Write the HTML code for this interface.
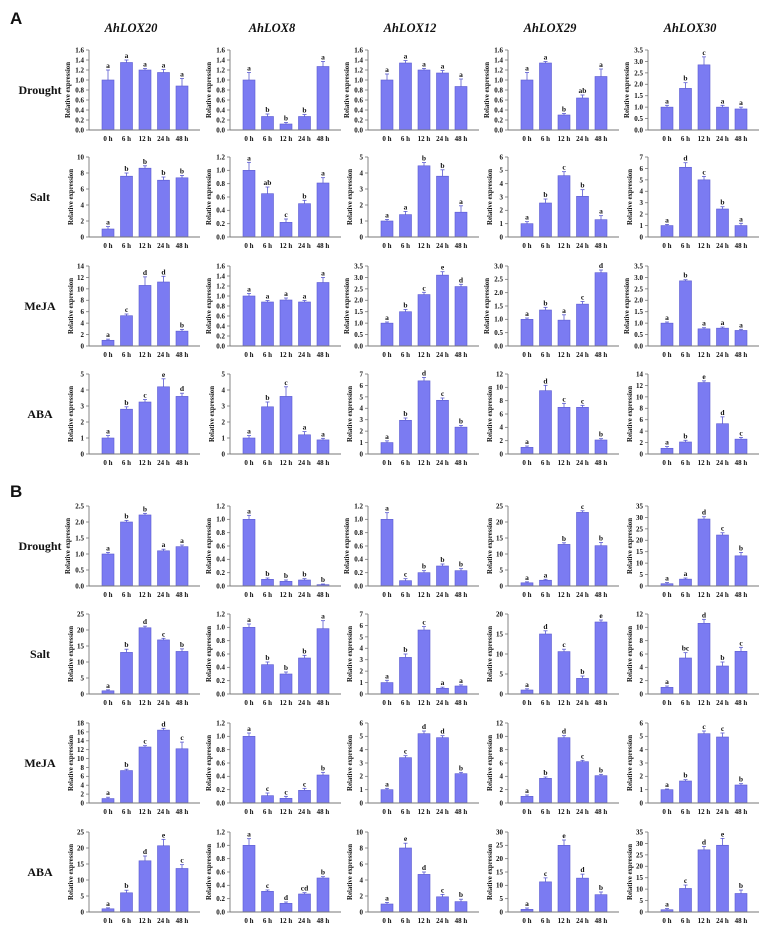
<!DOCTYPE html>
<html><head><meta charset="utf-8"><style>
html,body{margin:0;padding:0;background:#fff;}
svg{display:block;}
text{font-family:"Liberation Serif",serif;font-weight:bold;fill:#111;}
</style></head><body>
<svg id="fig" width="767" height="929" viewBox="0 0 767 929" xmlns="http://www.w3.org/2000/svg"></svg>
<script>
const genes = ['AhLOX20','AhLOX8','AhLOX12','AhLOX29','AhLOX30'];
const treatments = ['Drought','Salt','MeJA','ABA'];
const times = ['0 h','6 h','12 h','24 h','48 h'];

// Panel A values
const aDrought = [[1.0,1.35,1.2,1.15,0.88],[1.0,0.27,0.12,0.27,1.27],[1.0,1.34,1.2,1.14,0.87],[1.0,1.34,0.3,0.64,1.07],[1.0,1.82,2.85,1.0,0.92]];
const aSalt = [[1.0,7.6,8.6,7.1,7.4],[1.0,0.65,0.22,0.5,0.81],[1.0,1.4,4.45,3.8,1.55],[1.0,2.55,4.6,3.05,1.3],[1.0,6.1,5.0,2.45,1.0]];
const aMeJA = [[1.0,5.3,10.6,11.2,2.6],[1.0,0.88,0.92,0.88,1.27],[1.0,1.5,2.25,3.1,2.6],[1.0,1.35,0.97,1.57,2.75],[1.0,2.85,0.75,0.78,0.68]];
const aABA = [[1.0,2.8,3.25,4.2,3.6],[1.0,2.95,3.6,1.2,0.88],[1.0,2.95,6.4,4.7,2.35],[1.0,9.5,7.0,7.0,2.1],[1.0,2.1,12.5,5.3,2.6]];
// Panel B values
const bDrought = [[1.0,2.0,2.22,1.1,1.23],[1.0,0.1,0.07,0.09,0.02],[1.0,0.08,0.2,0.3,0.23],[1.0,1.8,13.0,23.0,12.6],[1.0,3.0,29.3,22.3,13.2]];
const bSalt = [[1.0,13.0,20.7,16.9,13.3],[1.0,0.44,0.3,0.54,0.98],[1.0,3.2,5.6,0.5,0.7],[1.0,15.0,10.6,3.9,18.0],[1.0,5.4,10.6,4.2,6.4]];
const bMeJA = [[1.0,7.3,12.6,16.4,12.2],[1.0,0.11,0.07,0.19,0.42],[1.0,3.4,5.2,4.9,2.2],[1.0,3.7,9.8,6.2,4.1],[1.0,1.65,5.2,4.95,1.35]];
const bABA = [[1.0,6.0,16.0,20.7,13.6],[1.0,0.31,0.13,0.27,0.51],[1.0,8.0,4.7,1.9,1.3],[1.0,11.3,25.0,12.7,6.5],[1.0,10.3,27.2,29.2,8.1]];

// Error bars (estimated)
const aDroughtErr = [[0.2,0.05,0.03,0.06,0.15],[0.15,0.05,0.03,0.04,0.1],[0.12,0.05,0.03,0.05,0.15],[0.15,0.03,0.03,0.06,0.15],[0.08,0.25,0.35,0.08,0.08]];
const aSaltErr = [[0.3,0.4,0.3,0.4,0.3],[0.12,0.1,0.05,0.05,0.08],[0.1,0.2,0.2,0.4,0.4],[0.15,0.3,0.3,0.5,0.3],[0.1,0.4,0.3,0.2,0.2]];
const aMeJAErr = [[0.2,0.3,1.5,1.0,0.3],[0.05,0.03,0.04,0.03,0.1],[0.05,0.1,0.1,0.15,0.1],[0.05,0.1,0.2,0.1,0.1],[0.05,0.05,0.05,0.05,0.05]];
const aABAErr = [[0.15,0.15,0.15,0.5,0.2],[0.15,0.3,0.6,0.2,0.1],[0.15,0.2,0.3,0.2,0.15],[0.2,0.8,0.6,0.3,0.2],[0.3,0.3,0.3,1.2,0.3]];
const bDroughtErr = [[0.05,0.05,0.05,0.05,0.05],[0.06,0.02,0.02,0.02,0.01],[0.1,0.03,0.03,0.03,0.03],[0.3,0.3,0.5,0.5,1.0],[0.5,0.5,1.0,1.0,1.5]];
const bSaltErr = [[0.3,1.0,0.5,0.5,0.8],[0.05,0.04,0.03,0.04,0.12],[0.2,0.3,0.3,0.1,0.1],[0.3,0.8,0.6,0.6,0.5],[0.2,0.8,0.6,0.6,0.6]];
const bMeJAErr = [[0.3,0.3,0.3,0.4,1.5],[0.05,0.04,0.03,0.03,0.04],[0.1,0.15,0.2,0.15,0.1],[0.2,0.2,0.3,0.2,0.2],[0.05,0.1,0.2,0.3,0.1]];
const bABAErr = [[0.3,0.8,1.5,2.0,1.2],[0.1,0.02,0.02,0.02,0.02],[0.2,0.6,0.3,0.3,0.3],[0.5,1.5,2.0,1.5,1.0],[0.5,1.5,1.5,3.0,1.5]];

// Significance letters
const aDroughtLet = [['a','a','a','a','a'],['a','b','b','b','a'],['a','a','a','a','a'],['a','a','b','ab','a'],['a','b','c','a','a']];
const aSaltLet = [['a','b','b','b','b'],['a','ab','c','b','a'],['a','a','b','b','a'],['a','b','c','b','a'],['a','d','c','b','a']];
const aMeJALet = [['a','c','d','d','b'],['a','a','a','a','a'],['a','b','c','e','d'],['a','b','a','c','d'],['a','b','a','a','a']];
const aABALet = [['a','b','c','e','d'],['a','b','c','a','a'],['a','b','d','c','b'],['a','d','c','c','b'],['a','b','e','d','c']];
const bDroughtLet = [['a','b','b','a','a'],['a','b','b','b','b'],['a','c','b','b','b'],['a','a','b','c','b'],['a','a','d','c','b']];
const bSaltLet = [['a','b','d','c','b'],['a','b','b','b','a'],['a','b','c','a','a'],['a','d','c','b','e'],['a','bc','d','b','c']];
const bMeJALet = [['a','b','c','d','c'],['a','c','c','c','b'],['a','c','d','d','b'],['a','b','d','c','b'],['a','b','c','c','b']];
const bABALet = [['a','b','d','e','c'],['a','c','d','cd','b'],['a','e','d','c','b'],['a','c','e','d','b'],['a','c','d','e','b']];

// Axis maxima and tick steps
const aMax = [[1.6,1.6,1.6,1.6,3.5],[10,1.2,5,6,7],[14,1.6,3.5,3.0,3.5],[5,5,7,12,14]];
const aStep = [[0.2,0.2,0.2,0.2,0.5],[2,0.2,1,1,1],[2,0.2,0.5,0.5,0.5],[1,1,1,2,2]];
const bMax = [[2.5,1.2,1.2,25,35],[25,1.2,7,20,12],[18,1.2,6,12,6],[25,1.2,10,30,35]];
const bStep = [[0.5,0.2,0.2,5,5],[5,0.2,1,5,2],[2,0.2,1,2,1],[5,0.2,2,5,5]];

const NS='http://www.w3.org/2000/svg';
const svg=document.getElementById('fig');
function mk(tag,attrs,parent){const e=document.createElementNS(NS,tag);for(const k in attrs)e.setAttribute(k,attrs[k]);(parent||svg).appendChild(e);return e;}

const colX=[89,230,368,508,648];
const aTops=[50,157,266,374], bTops=[506,614,723,832];
const plotH=80, axisW=111, barW=12, firstOff=19, pitch=18.5;

let t=mk('text',{x:10,y:24,'font-size':17});


t.style.fontFamily='"Liberation Sans",sans-serif';t.textContent='A';
t=mk('text',{x:10,y:497,'font-size':17});


t.style.fontFamily='"Liberation Sans",sans-serif';t.textContent='B';

genes.forEach((g,i)=>{
  const e=mk('text',{x:colX[i]+42,y:32,'font-size':12.5,'text-anchor':'middle','font-style':'italic'});
  
  
  e.textContent=g;
});

function drawPanel(prefix,tops,vals,errs,lets,maxs,steps){
  treatments.forEach((tr,r)=>{
    const top=tops[r], bot=top+plotH;
    const lab=mk('text',{x:40,y:top+plotH/2+4,'font-size':12,'text-anchor':'middle'});
    
    
    lab.textContent=tr;
    for(let c=0;c<5;c++){
      const ax=colX[c], ymax=maxs[r][c], step=steps[r][c];
      const g=mk('g',{});
      
      
      const y=v=>bot-v/ymax*plotH;
      const xC=i=>ax+firstOff+pitch*i;
      const n=Math.round(ymax/step);
      const dec=step<1?1:0;
      for(let k=0;k<=n;k++){
        const v=k*step, yy=y(v);
        mk('line',{x1:ax-3,x2:ax,y1:yy,y2:yy,stroke:'#777','stroke-width':0.8},g);
        const tl=mk('text',{x:ax-5,y:yy+2.4,'font-size':7,'text-anchor':'end'},g);
        
        
        tl.textContent=v.toFixed(dec);
      }
      const yt=mk('text',{x:0,y:0,'font-size':6.8,'text-anchor':'middle',transform:`translate(${ax-(dec?19:16)},${top+plotH/2}) rotate(-90)`},g);
      
      
      yt.textContent='Relative expression';
      vals[r][c].forEach((v,i)=>{
        const b=mk('rect',{x:xC(i)-barW/2,y:y(v),width:barW,height:bot-y(v),fill:'#7b7bf2',stroke:'#5a5ad0','stroke-width':0.6},g);
        
        
        const e=errs[r][c][i], et=y(v+e);
        mk('line',{x1:xC(i),x2:xC(i),y1:y(v),y2:et,stroke:'#5a5ad0','stroke-width':0.8},g);
        mk('line',{x1:xC(i)-2,x2:xC(i)+2,y1:et,y2:et,stroke:'#5a5ad0','stroke-width':0.8},g);
        const lt=mk('text',{x:xC(i),y:et-2,'font-size':7.5,'text-anchor':'middle'},g);
        
        
        lt.textContent=lets[r][c][i];
        const xl=mk('text',{x:xC(i),y:bot+11,'font-size':7,'text-anchor':'middle'},g);
        
        
        xl.textContent=times[i];
      });
      mk('line',{x1:ax,x2:ax,y1:top,y2:bot,stroke:'#777','stroke-width':0.9},g);
      mk('line',{x1:ax,x2:ax+axisW,y1:bot,y2:bot,stroke:'#777','stroke-width':0.9},g);
    }
  });
}
drawPanel('a',aTops,[aDrought,aSalt,aMeJA,aABA],[aDroughtErr,aSaltErr,aMeJAErr,aABAErr],[aDroughtLet,aSaltLet,aMeJALet,aABALet],aMax,aStep);
drawPanel('b',bTops,[bDrought,bSalt,bMeJA,bABA],[bDroughtErr,bSaltErr,bMeJAErr,bABAErr],[bDroughtLet,bSaltLet,bMeJALet,bABALet],bMax,bStep);
</script>
</body></html>
